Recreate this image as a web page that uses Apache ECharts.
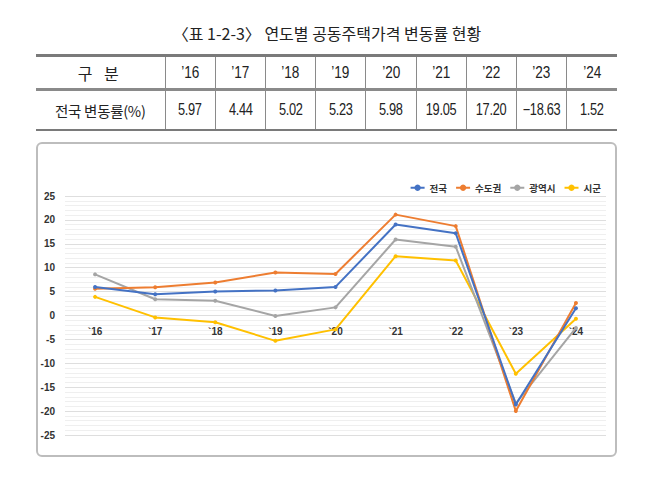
<!DOCTYPE html>
<html>
<head>
<meta charset="utf-8">
<script src="https://cdn.jsdelivr.net/npm/echarts@6/dist/echarts.min.js"></script>
<style>
  html, body { margin: 0; padding: 0; background: #fff; }
  body { width: 654px; height: 502px; position: relative; overflow: hidden; font-family: "Noto Sans CJK KR", "Noto Sans", sans-serif; }
  #title { position: absolute; left: 0; top: 22px; width: 654px; text-align: center; font-size: 16px; color: #222; letter-spacing: 0px; line-height: 22px; }
  #tbl { position: absolute; left: 36px; top: 54px; border-collapse: collapse; table-layout: fixed; width: 581px; color: #222; }
  #tbl td { text-align: center; padding: 0; border-left: 1px solid #8a8a8a; font-family: "Liberation Sans", sans-serif; }
  #tbl td span { display: inline-block; transform: scaleX(0.8); white-space: nowrap; }
  #tbl td:first-child { border-left: none; font-family: "Noto Sans CJK KR", sans-serif; }
  #tbl td:first-child span { transform: none; }
  #tbl tr.h td { height: 31px; border-top: 3px solid #7a7a7a; border-bottom: 3px solid #8a8a8a; font-size: 17px; }
  #tbl tr.v td { height: 38px; border-bottom: 2px solid #7a7a7a; font-size: 16px; letter-spacing: -0.4px; }
  #tbl tr.v td:first-child { letter-spacing: -0.3px; font-size: 14.5px; }
  #tbl tr.h td:first-child { letter-spacing: 4px; font-size: 16px; }
  #box { position: absolute; left: 36px; top: 142px; width: 577px; height: 311px; border: 2px solid #bdbdbd; border-radius: 6px; }
  #chart { position: absolute; left: 0; top: 0; width: 654px; height: 502px; }
</style>
</head>
<body>
<div id="title">〈표 1-2-3〉 연도별 공동주택가격 변동률 현황</div>
<table id="tbl"></table>
<div id="box"></div>
<div id="chart"></div>
<script>
// ---- data ----
var tableYears = ["’16", "’17", "’18", "’19", "’20", "’21", "’22", "’23", "’24"];
var tableHeaderLabel = "구 분";
var tableRowLabel = "전국 변동률(%)";
var tableValues = ["5.97", "4.44", "5.02", "5.23", "5.98", "19.05", "17.20", "−18.63", "1.52"];

var categories = ["`16", "`17", "`18", "`19", "`20", "`21", "`22", "`23", "`24"];
var seriesNames = ["전국", "수도권", "광역시", "시군"];
var nationwide = [5.97, 4.44, 5.02, 5.23, 5.98, 19.05, 17.20, -18.63, 1.52];
var capital = [5.6, 5.9, 6.9, 9.0, 8.7, 21.1, 18.7, -20.0, 2.6];
var metro = [8.6, 3.4, 3.1, -0.1, 1.7, 15.9, 14.4, -18.4, -2.6];
var province = [3.9, -0.4, -1.4, -5.3, -2.9, 12.4, 11.5, -12.2, -0.7];
var seriesColors = ["#4472C4", "#ED7D31", "#A5A5A5", "#FFC000"];

// ---- table ----
var tbl = document.getElementById('tbl');
var colg = '<colgroup><col style="width:129px">';
for (var i = 0; i < tableYears.length; i++) colg += '<col style="width:50.2px">';
colg += '</colgroup>';
var h = '<tr class="h"><td><span>' + tableHeaderLabel + '</span></td>';
tableYears.forEach(function (y) { h += '<td><span>' + y + '</span></td>'; });
h += '</tr>';
var v = '<tr class="v"><td><span>' + tableRowLabel + '</span></td>';
tableValues.forEach(function (x) { v += '<td><span>' + x + '</span></td>'; });
v += '</tr>';
tbl.innerHTML = colg + h + v;

// ---- chart ----
var chart = echarts.init(document.getElementById('chart'), null, { renderer: 'svg' });
var dataArr = [nationwide, capital, metro, province];
var font = '"Noto Sans CJK KR", "Noto Sans", sans-serif';
var numFont = '"Liberation Sans", "DejaVu Sans", sans-serif';
var gridTop = 196, gridBottom = 67, yMin = -25, yMax = 25;
var plotH = 502 - gridTop - gridBottom;
var zeroFromBottom = plotH * (0 - yMin) / (yMax - yMin);
var series = seriesNames.map(function (n, i) {
  return {
    name: n,
    type: 'line',
    data: dataArr[i],
    symbol: 'circle',
    symbolSize: 4,
    lineStyle: { width: 2, color: seriesColors[i] },
    itemStyle: { color: seriesColors[i] },
    z: 10 - i,
    animation: false
  };
});
chart.setOption({
  animation: false,
  textStyle: { fontFamily: font },
  legend: {
    right: 48, top: 178,
    itemWidth: 14, itemHeight: 8, itemGap: 8,
    textStyle: { fontSize: 9.5, fontWeight: 'bold', color: '#333', fontFamily: font },
    data: seriesNames
  },
  grid: { left: 65, right: 48, top: gridTop, bottom: gridBottom },
  xAxis: {
    type: 'category',
    data: categories,
    boundaryGap: true,
    offset: -zeroFromBottom,
    axisLine: { show: false, onZero: false },
    axisTick: { show: false },
    axisLabel: { margin: 11, fontSize: 10, fontWeight: 'bold', color: '#333', fontFamily: numFont },
    splitLine: { show: false }
  },
  yAxis: {
    type: 'value',
    min: yMin, max: yMax, interval: 5,
    axisLine: { show: false },
    axisTick: { show: false },
    axisLabel: { margin: 10, fontSize: 10, fontWeight: 'bold', color: '#333', fontFamily: numFont },
    splitLine: { show: true, lineStyle: { color: '#dedede', width: 1 } },
    minorTick: { show: false, splitNumber: 5 },
    minorSplitLine: { show: true, lineStyle: { color: '#efefef', width: 1 } }
  },
  series: series
});
</script>
</body>
</html>
